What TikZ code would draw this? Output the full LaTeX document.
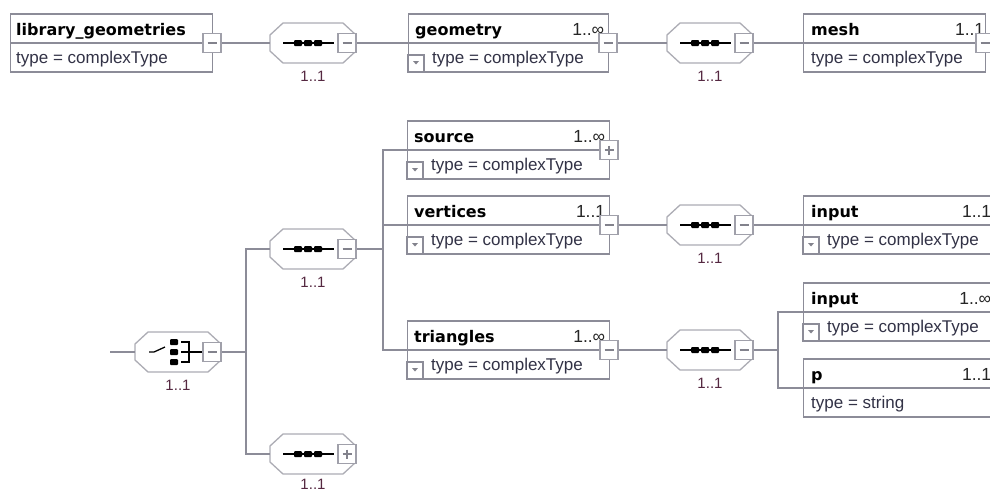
\documentclass[tikz,border=0pt]{standalone}
\usepackage{fontspec}
\setmainfont{Liberation Sans}
\newfontfamily\ttlfont{DejaVu Sans}
\usetikzlibrary{calc}

\definecolor{boxgray}{RGB}{140,140,152}
\definecolor{octgray}{RGB}{172,172,180}
\definecolor{btngray}{RGB}{160,160,170}
\definecolor{signgray}{RGB}{130,130,140}
\definecolor{typcol}{RGB}{50,50,70}
\definecolor{labcol}{RGB}{85,40,65}

\newcommand{\ebx}[4]{%
  \node[ebox, minimum width=#4, anchor=west] (#1) at (#2,#3) {};
  \draw[divline] (#1.west) -- (#1.east);}
\newcommand{\etitle}[3]{\node[ttl, anchor=base west] at ($(#1.west)+(#3,-8)$) {#2};}
\newcommand{\eocc}[2]{\node[occ, anchor=base east] at ($(#1.east)+(-5,-8)$) {#2};}
\newcommand{\etype}[3]{\node[typ, anchor=base west] at ($(#1.west)+(#3,20)$) {#2};}
\newcommand{\expd}[1]{%
  \draw[draw=boxgray, line width=1.1pt] ($(#1.west)+(0,12)$) rectangle ($(#1.west)+(16,29)$);
  \fill[signgray] ($(#1.west)+(5,18)$) -- ($(#1.west)+(11,18)$) -- ($(#1.west)+(8,21.5)$) -- cycle;}
\newcommand{\octshape}[3]{%
  \node[octn] (#1) at (#2,#3) {};
  \draw[octl, shift={(#2,#3)}] (-43,-8) -- (-30,-20) -- (30,-20) -- (43,-8) -- (43,8) -- (30,20) -- (-30,20) -- (-43,8) -- cycle;}
\newcommand{\octa}[3]{%
  \octshape{#1}{#2}{#3}
  \node[lab] at (#2,#3+33) {1..1};}
\newcommand{\seqicon}[2]{%
  \begin{scope}[shift={(#1,#2)}]
    \draw[icn] (-30,0) -- (21,0);
    \fill[blk] (-19,-3) rectangle (-11,3);
    \fill[blk] (-9,-3) rectangle (-1,3);
    \fill[blk] (1,-3) rectangle (9,3);
  \end{scope}}
\newcommand{\choiceicon}[2]{%
  \begin{scope}[shift={(#1,#2)}]
    \draw[icn] (-29,0) -- (-24,0) -- (-13,-5);
    \fill[blk] (-8,-13) rectangle (0,-7);
    \fill[blk] (-8,-3) rectangle (0,3);
    \fill[blk] (-8,7) rectangle (0,13);
    \draw[icn] (3,-10) -- (11,-10) -- (11,10) -- (3,10);
    \draw[icn] (3,0) -- (25,0);
  \end{scope}}
\newcommand{\bminus}[3]{%
  \node[btn] (#1) at (#2,#3) {};
  \draw[sign] ($(#1)+(-4.5,0)$) -- ($(#1)+(4.5,0)$);}
\newcommand{\bplus}[3]{%
  \node[btn] (#1) at (#2,#3) {};
  \draw[sign] ($(#1)+(-4.5,0)$) -- ($(#1)+(4.5,0)$);
  \draw[sign] ($(#1)+(0,-4.5)$) -- ($(#1)+(0,4.5)$);}

\begin{document}
\begin{tikzpicture}[x=1pt,y=-1pt,
  conn/.style={draw=boxgray, line width=1.4pt},
  ebox/.style={draw=boxgray, line width=1.4pt, fill=white, rectangle, minimum height=58, inner sep=0},
  divline/.style={draw=boxgray, line width=1.3pt},
  octn/.style={rectangle, minimum width=86, minimum height=40, inner sep=0},
  octl/.style={draw=octgray, line width=1.3pt, fill=white},
  btn/.style={rectangle, draw=btngray, line width=1.2pt, fill=white, minimum width=18, minimum height=19, inner sep=0},
  sign/.style={draw=signgray, line width=1.1pt},
  ttl/.style={font=\ttlfont\bfseries\fontsize{16}{18}\selectfont, inner sep=0, text=black},
  typ/.style={font=\fontsize{17}{19}\selectfont, inner sep=0, text=typcol},
  occ/.style={font=\fontsize{17.5}{19}\selectfont, inner sep=0, text=black!85},
  lab/.style={font=\fontsize{15}{17}\selectfont, inner sep=0, text=labcol},
  blk/.style={fill=black, rounded corners=1pt},
  icn/.style={draw=black, line width=1.3pt}
]
\useasboundingbox (0,0) rectangle (990,491);
\clip (0,0) rectangle (990,491);

% ---------- top row ----------
\ebx{lib}{10}{43}{202}
\etitle{lib}{library\_geometries}{6}
\etype{lib}{type = complexType}{6}
\bminus{lib-b}{212}{43}

\octa{c1}{313}{43}
\seqicon{313}{43}
\bminus{c1-b}{347}{43}

\ebx{geo}{408}{43}{200}
\etitle{geo}{geometry}{7}
\eocc{geo}{1..∞}
\expd{geo}
\etype{geo}{type = complexType}{24}
\bminus{geo-b}{608}{43}

\octa{c2}{710}{43}
\seqicon{710}{43}
\bminus{c2-b}{744}{43}

\ebx{mesh}{803}{43}{182}
\etitle{mesh}{mesh}{8}
\node[occ, anchor=base east] at ($(mesh.east)+(-2,-8)$) {1..1};
\etype{mesh}{type = complexType}{8}
\bminus{mesh-b}{985}{43}

% ---------- lower part ----------
\coordinate (s0) at (110,352);
\octa{ch}{178}{352}
\choiceicon{178}{352}
\bminus{ch-b}{212}{352}
\coordinate (t1) at (246,352);

\octa{c3}{313}{249}
\seqicon{313}{249}
\bminus{c3-b}{347}{249}

\octshape{c5}{313}{454}
\node[lab] at (313,484) {1..1};
\seqicon{313}{454}
\bplus{c5-b}{347}{454}

\coordinate (t2) at (383,249);

\ebx{src}{407}{150}{202}
\etitle{src}{source}{7}
\eocc{src}{1..∞}
\expd{src}
\etype{src}{type = complexType}{24}
\bplus{src-b}{609}{150}

\ebx{vert}{407}{225}{202}
\etitle{vert}{vertices}{7}
\eocc{vert}{1..1}
\expd{vert}
\etype{vert}{type = complexType}{24}
\bminus{vert-b}{609}{225}

\ebx{tri}{407}{350}{202}
\etitle{tri}{triangles}{7}
\eocc{tri}{1..∞}
\expd{tri}
\etype{tri}{type = complexType}{24}
\bminus{tri-b}{609}{350}

\octa{c4}{710}{225}
\seqicon{710}{225}
\bminus{c4-b}{744}{225}

\ebx{in1}{803}{225}{192}
\etitle{in1}{input}{8}
\eocc{in1}{1..1}
\expd{in1}
\etype{in1}{type = complexType}{24}

\octa{c6}{710}{350}
\seqicon{710}{350}
\bminus{c6-b}{744}{350}
\coordinate (t3) at (778,350);

\ebx{in2}{803}{312}{192}
\etitle{in2}{input}{8}
\eocc{in2}{1..∞}
\expd{in2}
\etype{in2}{type = complexType}{24}

\ebx{p}{803}{388}{192}
\etitle{p}{p}{8}
\eocc{p}{1..1}
\etype{p}{type = string}{8}

% ---------- connectors ----------
\draw[conn] (lib-b.east) -- (c1.west);
\draw[conn] (c1-b.east) -- (geo.west);
\draw[conn] (geo-b.east) -- (c2.west);
\draw[conn] (c2-b.east) -- (mesh.west);

\draw[conn] (s0) -- (ch.west);
\draw[conn] (ch-b.east) -- (t1);
\draw[conn] (t1) |- (c3.west);
\draw[conn] (t1) |- (c5.west);
\draw[conn] (c3-b.east) -- (t2);
\draw[conn] (t2) |- (src.west);
\draw[conn] (t2) |- (vert.west);
\draw[conn] (t2) |- (tri.west);
\draw[conn] (vert-b.east) -- (c4.west);
\draw[conn] (c4-b.east) -- (in1.west);
\draw[conn] (tri-b.east) -- (c6.west);
\draw[conn] (c6-b.east) -- (t3);
\draw[conn] (t3) |- (in2.west);
\draw[conn] (t3) |- (p.west);
\end{tikzpicture}
\end{document}
